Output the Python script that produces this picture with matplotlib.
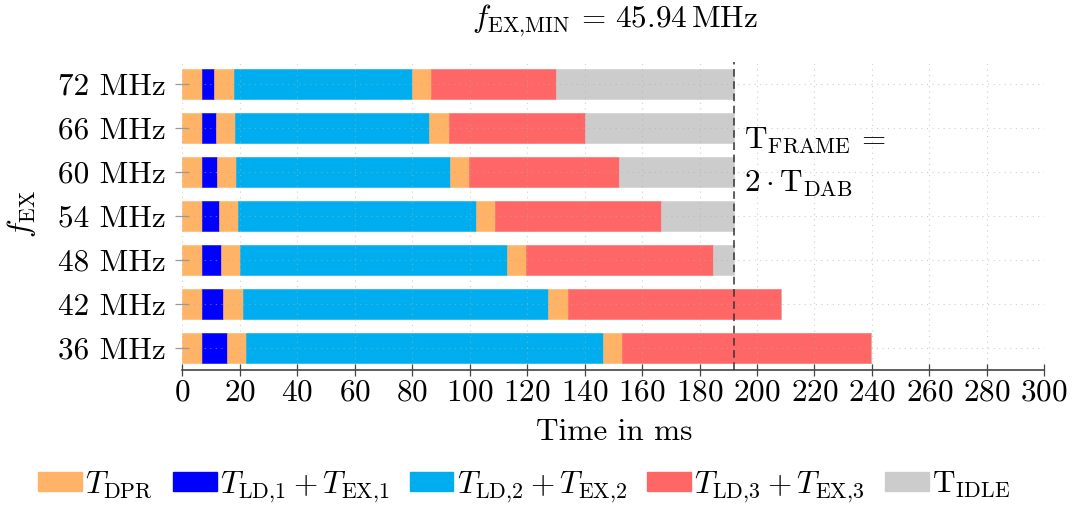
import numpy as np
import matplotlib
matplotlib.use("Agg")
import matplotlib.pyplot as plt
from matplotlib.patches import Patch

plt.rcParams["font.family"] = "serif"
plt.rcParams["font.serif"] = ["cmr10"]
plt.rcParams["mathtext.fontset"] = "cm"
plt.rcParams["axes.unicode_minus"] = False
plt.rcParams["axes.formatter.use_mathtext"] = True

# Excitation frequencies (bottom to top) and phase durations in ms
freqs = ["36 MHz", "42 MHz", "48 MHz", "54 MHz", "60 MHz", "66 MHz", "72 MHz"]
t_dpr = [6.75, 6.75, 6.75, 6.75, 6.75, 6.75, 6.75]
t_ldex1 = [8.75, 7.55, 6.6, 5.9, 5.3, 4.85, 4.35]
t_ldex2 = [124.0, 106.3, 92.9, 82.8, 74.4, 67.6, 62.05]
t_ldex3 = [86.8, 74.4, 65.1, 57.8, 52.1, 47.4, 43.45]
t_idle = [0.0, 0.0, 7.15, 25.25, 39.95, 51.9, 61.9]
t_frame = 192
f_ex_min = 45.94

c_dpr = "#FFB366"
c_ex1 = "#0000FF"
c_ex2 = "#00AEEF"
c_ex3 = "#FF6666"
c_idle = "#CCCCCC"

fs = 22.5

fig = plt.figure(figsize=(10.73, 5.07), dpi=100)
ax = fig.add_axes([182.3 / 1073, 1 - 370 / 507, 862 / 1073, 308 / 507])

y = np.arange(len(freqs))
h = 0.68
left = np.zeros(len(freqs))
segments = [
    (t_dpr, c_dpr), (t_ldex1, c_ex1), (t_dpr, c_dpr), (t_ldex2, c_ex2),
    (t_dpr, c_dpr), (t_ldex3, c_ex3), (t_idle, c_idle),
]
for vals, col in segments:
    vals = np.asarray(vals, dtype=float)
    ax.barh(y, vals, left=left, height=h, color=col, edgecolor=col,
            linewidth=0.4, zorder=2)
    left += vals

ax.axvline(t_frame, color="#333333", linestyle=(0, (5, 3)), linewidth=1.1,
           zorder=4)

ax.set_xlim(0, 300)
ax.set_ylim(-0.5, 6.5)
ax.set_xticks(np.arange(0, 301, 20))
ax.set_yticks(y)
ax.set_yticklabels(freqs)

ax.grid(True, color="#b0b0b0", linestyle=(0, (1, 4)), linewidth=0.8,
        alpha=0.6, zorder=3)
ax.set_axisbelow(False)

for s in ["left", "top", "right"]:
    ax.spines[s].set_visible(False)
ax.spines["bottom"].set_color("#333333")
ax.spines["bottom"].set_linewidth(1.1)

ax.tick_params(axis="x", direction="inout", length=9, width=0.9,
               color="#444444", labelsize=fs, pad=2)
ax.tick_params(axis="y", direction="inout", length=10, width=0.9,
               color="#999999", labelsize=fs, pad=7)

ax.text(195.5, 4.72, r"$\mathrm{T_{FRAME}}\,=$", fontsize=fs, ha="left",
        va="center")
ax.text(195.5, 3.74, r"$2\cdot\mathrm{T_{DAB}}$", fontsize=fs, ha="left",
        va="center")

fig.text(615 / 1073, 1 - 21 / 507,
         r"$f_{\mathrm{EX{,}MIN}}\,=\,%.2f\,\mathrm{MHz}$" % f_ex_min,
         fontsize=fs, ha="center", va="center")
fig.text(614 / 1073, 1 - 432 / 507, "Time in ms", fontsize=fs,
         ha="center", va="center")
fig.text(22 / 1073, 1 - 214 / 507, r"$f_{\mathrm{EX}}$", fontsize=fs,
         ha="center", va="center", rotation=90)

handles = [
    Patch(facecolor=c_dpr, edgecolor=c_dpr, label=r"$T_{\mathrm{DPR}}$"),
    Patch(facecolor=c_ex1, edgecolor=c_ex1,
          label=r"$T_{\mathrm{LD{,}1}}+T_{\mathrm{EX{,}1}}$"),
    Patch(facecolor=c_ex2, edgecolor=c_ex2,
          label=r"$T_{\mathrm{LD{,}2}}+T_{\mathrm{EX{,}2}}$"),
    Patch(facecolor=c_ex3, edgecolor=c_ex3,
          label=r"$T_{\mathrm{LD{,}3}}+T_{\mathrm{EX{,}3}}$"),
    Patch(facecolor=c_idle, edgecolor=c_idle, label=r"$\mathrm{T_{IDLE}}$"),
]
fig.legend(handles=handles, loc="center", ncol=5, frameon=False,
           bbox_to_anchor=(524 / 1073, 1 - 487 / 507), fontsize=fs,
           handlelength=1.4, handleheight=0.56, handletextpad=0.1,
           columnspacing=0.65, borderpad=0, borderaxespad=0)

fig.savefig("out.png", dpi=100)
